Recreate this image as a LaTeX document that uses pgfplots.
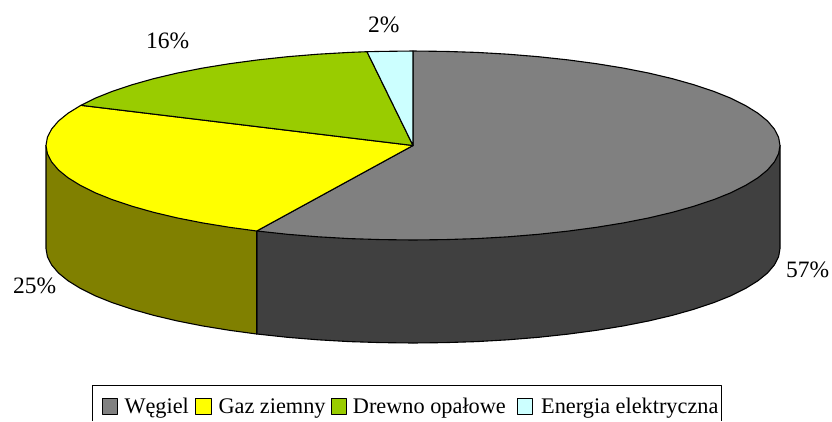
\documentclass[border=0pt]{standalone}
\usepackage{pgfplots}
\pgfplotsset{compat=1.18}
\usepackage{fontspec}
\setmainfont{Liberation Serif}
\definecolor{cW}{HTML}{808080}
\definecolor{cWd}{HTML}{404040}
\definecolor{cG}{HTML}{FFFF00}
\definecolor{cGd}{HTML}{808000}
\definecolor{cD}{HTML}{99CC00}
\definecolor{cE}{HTML}{CCFFFF}
\tikzset{lab/.style={font=\fontsize{22.3}{24}\selectfont, inner sep=0pt},
         pct/.style={font=\fontsize{23.5}{25}\selectfont, inner sep=0pt}}
\begin{document}
\begin{tikzpicture}
\begin{axis}[
  scale only axis, width=832pt, height=421pt,
  xmin=0, xmax=832, ymin=0, ymax=421, y dir=reverse,
  hide axis, clip=false,
  every axis plot/.append style={draw=black, line width=1.1pt, line join=round, mark=none},
]
\path (axis cs:0,0) rectangle (axis cs:832,421);
% sides
\addplot[fill=cWd] coordinates {
(780,145.5)(780,248.5)(778.6,256.7)(774.4,264.9)(767.5,273.0)(757.9,280.8)(745.6,288.4)(730.8,295.8)(713.6,302.7)(694.1,309.2)(672.5,315.3)(648.9,320.9)(623.5,325.9)(596.5,330.3)(568.1,334.1)(538.5,337.3)(508.0,339.8)(476.7,341.6)(445.0,342.6)(413,343)(381,342.6)(349.3,341.6)(318,339.8)(287.5,337.3)(257.9,334.1)(256.7,334.0)(256.7,231.0)} -- cycle;
\addplot[fill=cGd] coordinates {
(256.7,231.0)(256.7,334.0)(229.5,330.3)(202.5,325.9)(177.1,320.9)(153.5,315.3)(131.9,309.2)(112.4,302.7)(95.2,295.8)(80.4,288.4)(68.1,280.8)(58.5,273.0)(51.6,264.9)(47.4,256.7)(46,248.5)(46,145.5)} -- cycle;
% Wegiel 57%
\addplot[fill=cW] coordinates {
(413,145.5)(413,51)(445.0,51.4)(476.7,52.4)(508.0,54.2)(538.5,56.7)(568.1,59.9)(596.5,63.7)(623.5,68.1)(648.9,73.1)(672.5,78.7)(694.1,84.8)(713.6,91.3)(730.8,98.2)(745.6,105.6)(757.9,113.2)(767.5,121.0)(774.4,129.1)(778.6,137.3)(780,145.5)(778.6,153.7)(774.4,161.9)(767.5,170.0)(757.9,177.8)(745.6,185.4)(730.8,192.8)(713.6,199.7)(694.1,206.2)(672.5,212.3)(648.9,217.9)(623.5,222.9)(596.5,227.3)(568.1,231.1)(538.5,234.3)(508.0,236.8)(476.7,238.6)(445.0,239.6)(413,240)(381.0,239.6)(349.3,238.6)(318.0,236.8)(287.5,234.3)(257.9,231.1)(256.7,231.0)} -- cycle;
% Gaz ziemny 25%
\addplot[fill=cG] coordinates {
(413,145.5)(256.7,231.0)(229.5,227.3)(202.5,222.9)(177.1,217.9)(153.5,212.3)(131.9,206.2)(112.4,199.7)(95.2,192.8)(80.4,185.4)(68.1,177.8)(58.5,170.0)(51.6,161.9)(47.4,153.7)(46,145.5)(47.4,137.3)(51.6,129.1)(58.5,121.0)(68.1,113.2)(80.4,105.6)(80.9,105.3)} -- cycle;
% Drewno opalowe 16%
\addplot[fill=cD] coordinates {
(413,145.5)(80.9,105.3)(95.2,98.2)(112.4,91.3)(131.9,84.8)(153.5,78.7)(177.1,73.1)(202.5,68.1)(229.5,63.7)(257.9,59.9)(287.5,56.7)(318.0,54.2)(349.3,52.4)(367,51.7)} -- cycle;
% Energia elektryczna 2%
\addplot[fill=cE] coordinates {
(413,145.5)(367,51.7)(381.0,51.4)(413,51)} -- cycle;
% legend frame (cut by the lower edge of the picture)
\addplot[line width=0.9pt] coordinates {(92.5,421)(92.5,385.5)(721.7,385.5)(721.7,421)};
\addplot[fill=cW, line width=1pt] coordinates {(102,398.5)(117.5,398.5)(117.5,414)(102,414)} -- cycle;
\addplot[fill=cG, line width=1pt] coordinates {(195.5,398.5)(211,398.5)(211,414)(195.5,414)} -- cycle;
\addplot[fill=cD, line width=1pt] coordinates {(331,398.5)(346.5,398.5)(346.5,414)(331,414)} -- cycle;
\addplot[fill=cE, line width=1pt] coordinates {(517,398.5)(532.5,398.5)(532.5,414)(517,414)} -- cycle;
\node[lab, anchor=base west] at (axis cs:124.3,413.3) {Węgiel};
\node[lab, anchor=base west] at (axis cs:218.3,413.3) {Gaz ziemny};
\node[lab, anchor=base west] at (axis cs:352.7,413.3) {Drewno opałowe};
\node[lab, anchor=base west] at (axis cs:541,413.3) {Energia elektryczna};
\node[pct, anchor=base west] at (axis cs:146,48) {16\%};
\node[pct, anchor=base west] at (axis cs:368,32) {2\%};
\node[pct, anchor=base west] at (axis cs:786,277.5) {57\%};
\node[pct, anchor=base west] at (axis cs:13,293.5) {25\%};
\end{axis}
\end{tikzpicture}
\end{document}
